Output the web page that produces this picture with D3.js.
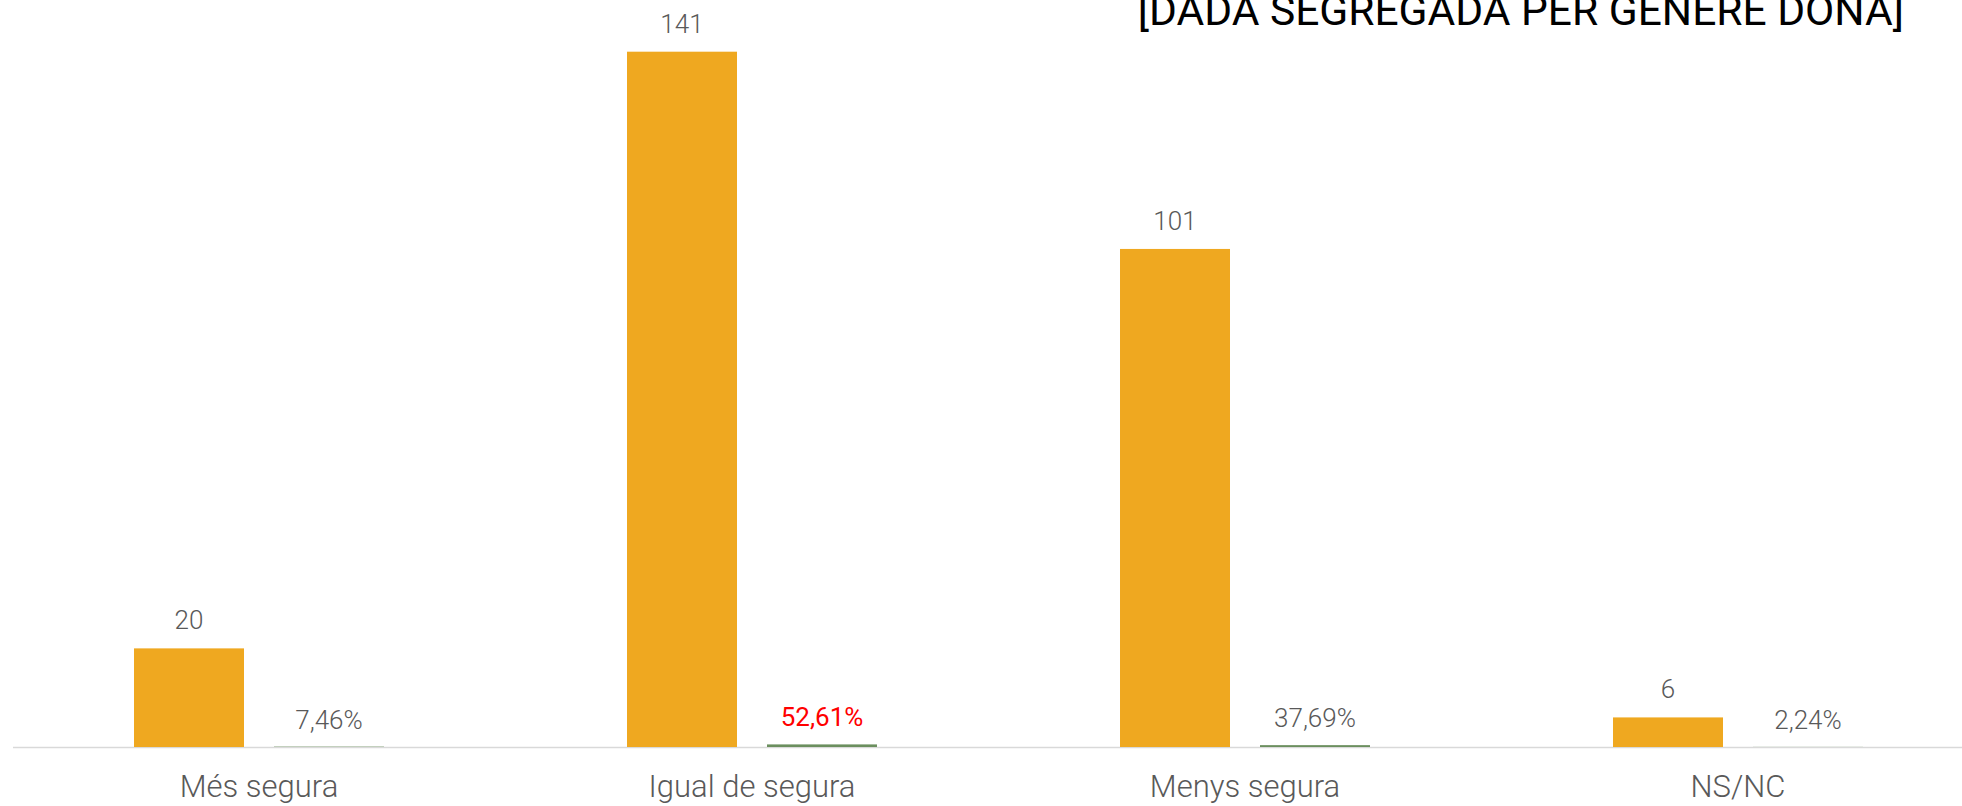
<!DOCTYPE html>
<html>
<head>
<meta charset="utf-8">
<script src="https://cdn.jsdelivr.net/npm/d3@7"></script>
<style>
	html, body {margin: 0; padding: 0; background: #fff;}
	svg {display: block; font-family: Roboto, 'Noto Sans', sans-serif;}
</style>
</head>
<body>
<svg id="chart" width="1962" height="806"></svg>
<script>
'use strict';

var title = '[DADA SEGREGADA PER GENERE DONA]';
var categories = ['Més segura', 'Igual de segura', 'Menys segura', 'NS/NC'];
var counts = [20, 141, 101, 6];
var shares = [0.0746, 0.5261, 0.3769, 0.0224];
var series = ['count', 'share'];

var W = 1962, H = 806;
var baseY = 747;

var svg = d3.select('#chart');

// outer band per category; last one runs off the right edge like the original
var x = d3.scaleBand()
	.domain(categories)
	.range([12.5, 12.5 + 4 * 493]);

var xs = d3.scaleBand()
	.domain(series)
	.range([0, x.bandwidth()])
	.paddingInner(30 / 140)
	.paddingOuter(0.868);

var y = d3.scaleLinear()
	.domain([0, 160])
	.range([baseY, -42]);

var pct = d3.formatLocale({decimal: ',', thousands: '.', grouping: [3], currency: ['', '€']}).format('.2%');
var maxShare = d3.max(shares);

var rows = categories.map(function(c, i) {
	return {cat: c, count: counts[i], share: shares[i]};});

// axis line
svg.append('line')
	.attr('x1', 13).attr('x2', W)
	.attr('y1', baseY + 0.5).attr('y2', baseY + 0.5)
	.attr('stroke', '#d9d9d9')
	.attr('stroke-width', 1.5);

var g = svg.selectAll('g.cat').data(rows).enter()
	.append('g').attr('class', 'cat')
	.attr('transform', function(d) {return 'translate(' + x(d.cat) + ',0)';});

g.append('rect')
	.attr('x', xs('count'))
	.attr('width', xs.bandwidth())
	.attr('y', function(d) {return y(d.count);})
	.attr('height', function(d) {return baseY - y(d.count);})
	.attr('fill', '#efa820');

// the percentages share the count axis, so these are only slivers
g.append('rect')
	.attr('x', xs('share'))
	.attr('width', xs.bandwidth())
	.attr('y', function(d) {return y(d.share);})
	.attr('height', function(d) {return baseY - y(d.share);})
	.attr('fill', '#6b8f5e');

g.append('text')
	.attr('x', xs('count') + xs.bandwidth() / 2)
	.attr('y', function(d) {return y(d.count) - 19;})
	.attr('text-anchor', 'middle')
	.attr('font-size', 26)
	.attr('font-weight', 300)
	.attr('fill', '#595959')
	.text(function(d) {return d.count;});

g.append('text')
	.attr('x', xs('share') + xs.bandwidth() / 2)
	.attr('y', function(d) {return y(d.share) - 18;})
	.attr('text-anchor', 'middle')
	.attr('font-size', 26)
	.attr('font-weight', function(d) {return d.share === maxShare ? 400 : 300;})
	.attr('fill', function(d) {return d.share === maxShare ? '#ff0000' : '#595959';})
	.text(function(d) {return pct(d.share);});

// category labels
g.append('text')
	.attr('x', x.bandwidth() / 2)
	.attr('y', 797)
	.attr('text-anchor', 'middle')
	.attr('font-size', 31)
	.attr('font-weight', 300)
	.attr('fill', '#595959')
	.text(function(d) {return d.cat;});

// title, clipped at the top like the original
svg.append('text')
	.attr('x', 1904)
	.attr('y', 25)
	.attr('text-anchor', 'end')
	.attr('font-size', 42.5)
	.attr('fill', '#000')
	.text(title);
</script>
</body>
</html>
